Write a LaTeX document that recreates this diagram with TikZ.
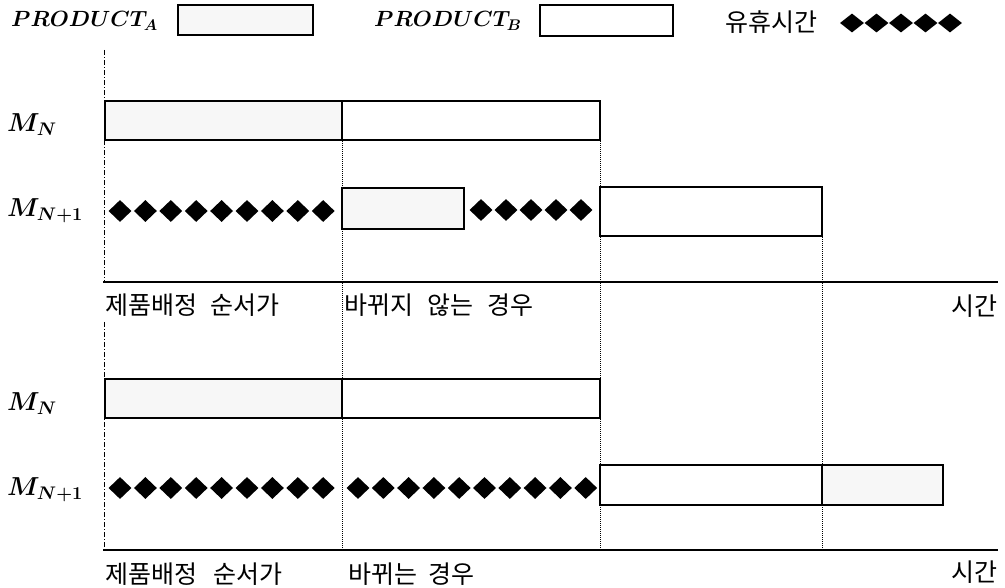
\RequirePackage{fix-cm}
\documentclass[tikz,border=0pt]{standalone}
\usepackage{fontspec}
\newfontfamily\kr{Noto Sans CJK KR}
\usetikzlibrary{shapes.geometric}
\tikzset{
  prodA/.style={draw, line width=1.2pt, fill=black!3, inner sep=0pt, outer sep=0pt},
  prodB/.style={draw, line width=1.2pt, fill=white, inner sep=0pt, outer sep=0pt},
  idle/.style={shape=diamond, fill=black, inner sep=0pt, minimum width=23pt, minimum height=22pt},
  legidle/.style={shape=diamond, fill=black, inner sep=0pt, minimum width=24pt, minimum height=19pt},
  axisline/.style={line width=2pt},
  guide/.style={line width=1pt, densely dotted},
  leftguide/.style={line width=0.8pt, dash pattern=on 5pt off 2pt on 1pt off 2pt},
  krtext/.style={inner sep=0pt, font=\kr\fontsize{25}{30}\selectfont},
  mlabel/.style={inner sep=0pt, anchor=west, font=\fontsize{26}{31}\selectfont\mathversion{bold}},
  legtext/.style={inner sep=0pt, anchor=west, font=\fontsize{22}{26}\selectfont\mathversion{bold}},
}
\newcommand{\ganttbox}[6]{%
  \node[#2, anchor=north west, minimum width={(#5-#3)*1pt}, minimum height={(#6-#4)*1pt}] (#1) at (#3,#4) {};}
\begin{document}
\begin{tikzpicture}[x=1pt,y=-1pt]
\useasboundingbox (0,0) rectangle (1005,588);

% legend
\node[legtext] (legA) at (11,21) {$PRODUCT_A$};
\ganttbox{legAbox}{prodA}{178}{5}{313}{35}
\node[legtext] (legB) at (374,21) {$PRODUCT_B$};
\ganttbox{legBbox}{prodB}{540}{5}{673}{36}
\node[krtext, anchor=west] (legI) at (725,22) {유휴시간};
\foreach \i in {0,...,4} \node[legidle] (legd\i) at (852+24.5*\i,23) {};

% guide coordinates
\coordinate (g0a) at (104,50);  \coordinate (g0b) at (104,282);
\coordinate (g0c) at (104,322); \coordinate (g0d) at (104,550);
\coordinate (g1a) at (342,101); \coordinate (g1b) at (342,550);
\coordinate (g2a) at (600,101); \coordinate (g2b) at (600,550);
\coordinate (g3a) at (822,187); \coordinate (g3b) at (822,550);

% ---------- top chart ----------
\node[mlabel] (tMN) at (7,125) {$M_N$};
\node[mlabel] (tMN1) at (7,211) {$M_{N+1}$};
\ganttbox{tA1}{prodA}{105}{101}{342}{140}
\ganttbox{tB1}{prodB}{342}{101}{600}{140}
\foreach \i in {0,...,8} \node[idle] (tdA\i) at (120+25.4*\i,211) {};
\ganttbox{tA2}{prodA}{342}{188}{464}{229}
\foreach \i in {0,...,4} \node[idle] (tdB\i) at (481+25*\i,210) {};
\ganttbox{tB2}{prodB}{600}{187}{822}{236}
\coordinate (tax0) at (103,282); \coordinate (tax1) at (998,282);
\draw[axisline] (tax0) -- (tax1);
\node[krtext, anchor=west] (tL1) at (105,305) {제품배정\hspace{13pt}순서가};
\node[krtext, anchor=west] (tL2) at (344,305) {바뀌지\hspace{14pt}않는\hspace{14pt}경우};
\node[krtext, anchor=east] (tT) at (998,306) {시간};

% ---------- bottom chart ----------
\node[mlabel] (bMN) at (7,404) {$M_N$};
\node[mlabel] (bMN1) at (7,490) {$M_{N+1}$};
\ganttbox{bA1}{prodA}{105}{379}{342}{418}
\ganttbox{bB1}{prodB}{342}{379}{600}{418}
\foreach \i in {0,...,8} \node[idle] (bdA\i) at (120+25.4*\i,488) {};
\foreach \i in {0,...,9} \node[idle] (bdB\i) at (358+25.3*\i,488) {};
\ganttbox{bB2}{prodB}{600}{465}{822}{505}
\ganttbox{bA2}{prodA}{822}{465}{943}{505}
\coordinate (bax0) at (103,550); \coordinate (bax1) at (998,550);
\draw[axisline] (bax0) -- (bax1);
\node[krtext, anchor=west] (bL1) at (105,574) {제품배정\hspace{16pt}순서가};
\node[krtext, anchor=west] (bL2) at (348,574) {바뀌는\hspace{11pt}경우};
\node[krtext, anchor=east] (bT) at (998,572) {시간};

% guides
\draw[leftguide] (g0a) -- (g0b);
\draw[leftguide] (g0c) -- (g0d);
\draw[guide] (g1a) -- (g1b);
\draw[guide] (g2a) -- (g2b);
\draw[guide] (g3a) -- (g3b);
\end{tikzpicture}
\end{document}
